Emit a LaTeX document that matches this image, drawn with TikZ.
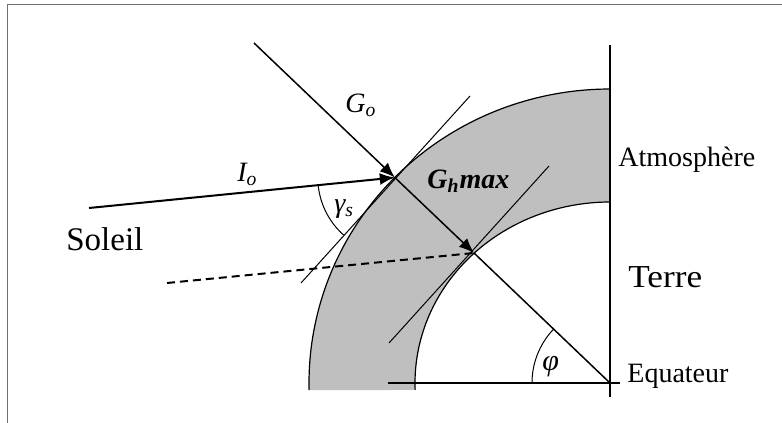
\documentclass[tikz,border=0pt]{standalone}
\usepackage{fontspec}
\setmainfont{Liberation Serif}
\usepackage{graphicx}
\usetikzlibrary{arrows.meta}
\definecolor{ringgray}{HTML}{BFBFBF}
\definecolor{framegray}{HTML}{707070}
\begin{document}
\begin{tikzpicture}[x=0.5pt,y=-0.5pt,
  outline/.style={line width=0.6pt},
  ray/.style={line width=0.75pt},
  thinline/.style={line width=0.5pt},
  tip/.style={-{Latex[length=7.5pt,width=6pt]}},
  lbl/.style={inner sep=0pt, anchor=base west},
  bigtxt/.style={lbl, font=\fontsize{16}{18}\selectfont},
  midtxt/.style={lbl, font=\fontsize{14}{16}\selectfont},
  mathtxt/.style={lbl, font=\fontsize{14}{16}\selectfont\itshape},
]
\useasboundingbox (0,0) rectangle (782,423);
% frame
\draw[framegray, line width=0.5pt] (7,423) -- (7,4.5) -- (782,4.5);

% coordinates
\coordinate (C) at (610,383);
\coordinate (P) at (394.8,177.5);
\coordinate (Q) at (474,253);
\coordinate (Gs) at (254,43);
\coordinate (Is) at (89,208);
\coordinate (Vt) at (610,45);
\coordinate (Vb) at (610,397);
\coordinate (Hl) at (388,383);
\coordinate (Hr) at (620,383);
\coordinate (T1a) at (470,96);
\coordinate (T1b) at (301,283);
\coordinate (T2a) at (549,166);
\coordinate (T2b) at (389,343);
\coordinate (Ds) at (167,283);

% ring (atmosphere)
\fill[ringgray] plot[domain=270:178.6,samples=100] ({610+301*cos(\x)},{383+294*sin(\x)})
  -- plot[domain=177.8:270,samples=100] ({610+195*cos(\x)},{383+181*sin(\x)}) -- cycle;
\draw[outline] plot[domain=270:178.6,samples=100] ({610+301*cos(\x)},{383+294*sin(\x)});
\draw[outline] plot[domain=270:177.8,samples=100] ({610+195*cos(\x)},{383+181*sin(\x)});

% axes
\draw[ray] (Vt) -- (Vb);
\draw[ray] (Hl) -- (Hr);

% tangents
\draw[thinline] (T1a) -- (T1b);
\draw[thinline] (T2a) -- (T2b);

% dashed line
\draw[line width=1pt, dash pattern=on 4pt off 2.5pt] (Ds) -- (Q);

% rays
\draw[ray,tip] (Gs) -- (P);
\draw[ray,tip] (P) -- (Q);
\draw[ray] (Q) -- (C);
\draw[line width=1pt,tip] (Is) -- (P);

% angle arcs
\draw[thinline] plot[domain=174.3:131.6,samples=40] ({394.8+77*cos(\x)},{177.5+77*sin(\x)});
\draw[thinline] plot[domain=180:223.7,samples=40] ({610+78*cos(\x)},{383+78*sin(\x)});

% labels
\node[bigtxt, font=\fontsize{16.5}{18}\selectfont] (soleil) at (66,250) {Soleil};
\node[bigtxt] (terre) at (628,287) {\scalebox{1.1}[1]{Terre}};
\node[midtxt] (atm) at (618,166) {Atmosphère};
\node[midtxt] (equ) at (627,382) {Equateur};
\node[mathtxt] (go) at (345,112) {G\textsubscript{o}};
\node[mathtxt] (io) at (237,181) {I\textsubscript{o}};
\node[mathtxt, font=\fontsize{14}{16}\selectfont\bfseries\itshape] (gh) at (427,188) {G\textsubscript{h}max};
\node[mathtxt] (gam) at (334,212) {γ\textsubscript{s}};
\node[mathtxt, font=\fontsize{15}{16}\selectfont\itshape] (phi) at (542,370) {φ};
\end{tikzpicture}
\end{document}
